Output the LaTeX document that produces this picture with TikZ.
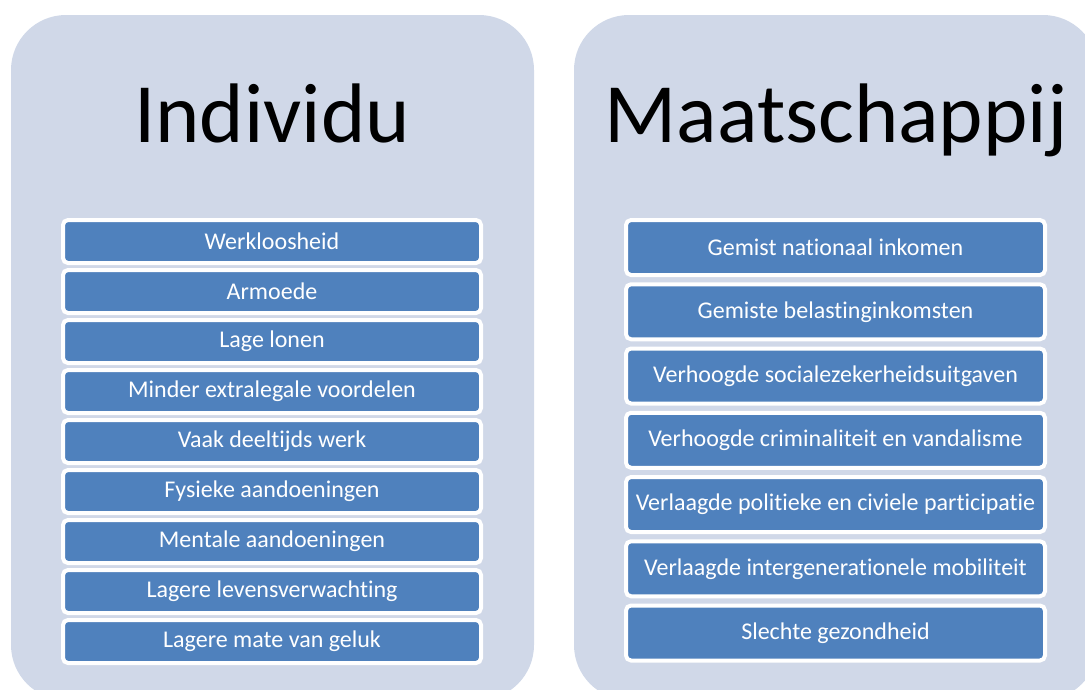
\documentclass[tikz,border=0pt]{standalone}
\usepackage{fontspec}
\setmainfont{Carlito}[Ligatures=NoCommon]
\usepackage{xcolor}
\definecolor{panelgrey}{RGB}{208,216,232}
\definecolor{boxblue}{RGB}{79,129,189}
\usepackage{tikz}
\usetikzlibrary{positioning}

\tikzset{
  panel/.style={fill=panelgrey, rounded corners=55pt},
  title/.style={font=\fontsize{84.5}{90}\selectfont, text=black, anchor=base},
  itembox/.style={draw=white, line width=4pt, fill=boxblue, rounded corners=5pt,
    text=white, font=\fontsize{24}{26}\selectfont, inner sep=0pt},
  indbox/.style={itembox, minimum width=418pt, minimum height=43pt},
  maatbox/.style={itembox, minimum width=419pt, minimum height=55pt}
}

\begin{document}
\begin{tikzpicture}[x=1pt,y=-1pt]
            \useasboundingbox (0,0) rectangle (1085,689);
            \clip (0,0) rectangle (1085,689);
            % panels
            \fill[panel] (11,15) rectangle (534,700);
            \fill[panel] (574,15) rectangle (1098,700);
            \node[title] (individu) at (272,142) {Individu};
            \node[title] (maatschappij) at (836,142) {Maatschappij};
            % individu
            \foreach \txt [count=\i from 0] in {Werkloosheid, Armoede, Lage lonen,
              Minder extralegale voordelen, Vaak deeltijds werk, Fysieke aandoeningen,
              Mentale aandoeningen, Lagere levensverwachting, Lagere mate van geluk}
              \node[indbox] (ind\i) at (272,{241.5+50*\i}) {\txt};
            % maatschappij
            \foreach \txt [count=\i from 0] in {Gemist nationaal inkomen,
              Gemiste belastinginkomsten, Verhoogde socialezekerheidsuitgaven,
              Verhoogde criminaliteit en vandalisme,
              Verlaagde politieke en civiele participatie,
              Verlaagde intergenerationele mobiliteit, Slechte gezondheid}
              \node[maatbox] (maat\i) at (835.5,{247.5+64.25*\i}) {\txt};
        \end{tikzpicture}
\end{document}
